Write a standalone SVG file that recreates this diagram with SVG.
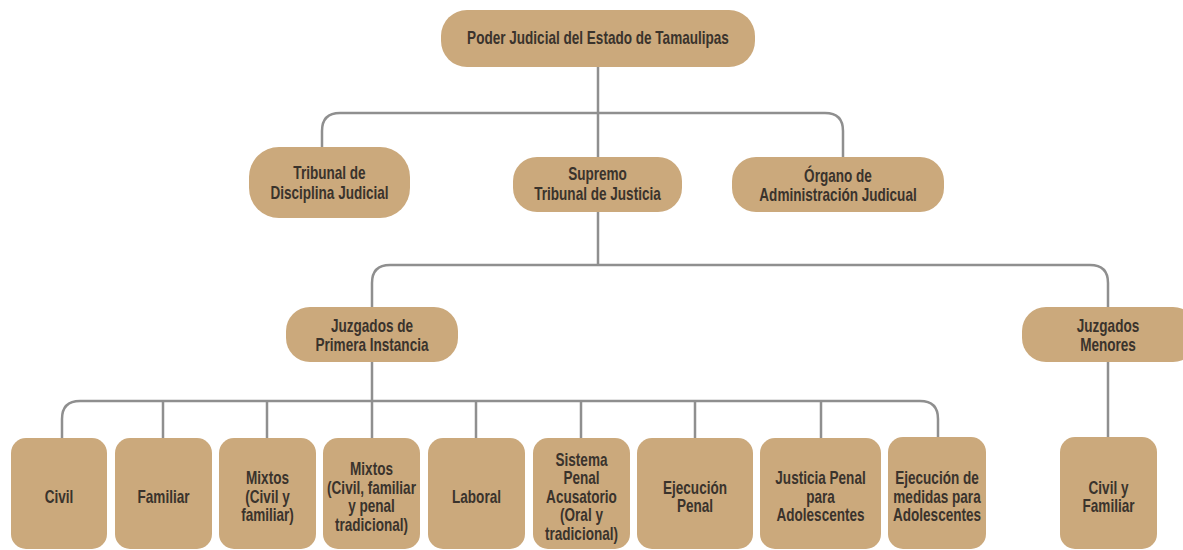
<svg xmlns="http://www.w3.org/2000/svg" width="1183" height="550" viewBox="0 0 1183 550">
<style>
.n{fill:#cba97c}
.t{font-family:"Liberation Sans",Arial,sans-serif;font-weight:bold;font-size:17.5px;fill:#3a332c;text-anchor:middle}
.c{fill:none;stroke:#8f8f8f;stroke-width:2.5}
</style>
<rect width="1183" height="550" fill="#ffffff"/>
<g id="connectors" class="c">
<path d="M598,67 V157"/>
<path d="M322,147 V131 Q322,113 340,113 H825 Q843,113 843,131 V157"/>
<path d="M598,212 V265"/>
<path d="M372,307 V283 Q372,265 390,265 H1090 Q1108,265 1108,283 V307"/>
<path d="M372,362 V438"/>
<path d="M62,438 V419 Q62,401 80,401 H920 Q938,401 938,419 V438"/>
<path d="M163,401 V438 M267,401 V438 M476,401 V438 M581,401 V438 M695,401 V438 M821,401 V438"/>
<path d="M1108,362 V438"/>
</g>
<g id="poder"><rect class="n" x="441" y="10" width="314" height="57" rx="26"/><text class="t" transform="translate(598 0) scale(0.775 1)" x="0" y="44.5">Poder Judicial del Estado de Tamaulipas</text></g>
<g id="tribunal"><rect class="n" x="249" y="147" width="161" height="71" rx="30"/><text class="t" transform="translate(329.5 0) scale(0.775 1)" x="0" y="179.5">Tribunal de<tspan x="0" dy="20">Disciplina Judicial</tspan></text></g>
<g id="supremo"><rect class="n" x="513" y="157" width="169" height="55" rx="24"/><text class="t" transform="translate(597.5 0) scale(0.775 1)" x="0" y="180.5">Supremo<tspan x="0" dy="19.5">Tribunal de Justicia</tspan></text></g>
<g id="organo"><rect class="n" x="732" y="157" width="212" height="55" rx="24"/><text class="t" transform="translate(838 0) scale(0.775 1)" x="0" y="182.5">Órgano de<tspan x="0" dy="19">Administración Judicual</tspan></text></g>
<g id="primera"><rect class="n" x="286" y="307" width="172" height="55" rx="24"/><text class="t" transform="translate(372 0) scale(0.775 1)" x="0" y="332.5">Juzgados de<tspan x="0" dy="19">Primera Instancia</tspan></text></g>
<g id="menores"><rect class="n" x="1022" y="307" width="175" height="55" rx="24"/><text class="t" transform="translate(1108 0) scale(0.775 1)" x="0" y="332.5">Juzgados<tspan x="0" dy="19">Menores</tspan></text></g>
<g id="civil"><rect class="n" x="11" y="438" width="96" height="111" rx="15"/><text class="t" transform="translate(59 0) scale(0.775 1)" x="0" y="503">Civil</text></g>
<g id="familiar"><rect class="n" x="115" y="438" width="97" height="111" rx="15"/><text class="t" transform="translate(163.5 0) scale(0.775 1)" x="0" y="503">Familiar</text></g>
<g id="mixtos1"><rect class="n" x="219" y="438" width="97" height="111" rx="15"/><text class="t" transform="translate(267.5 0) scale(0.775 1)" x="0" y="484.5">Mixtos<tspan x="0" dy="18.5">(Civil y</tspan><tspan x="0" dy="18.5">familiar)</tspan></text></g>
<g id="mixtos2"><rect class="n" x="323" y="438" width="97" height="111" rx="15"/><text class="t" transform="translate(371.5 0) scale(0.775 1)" x="0" y="475.25">Mixtos<tspan x="0" dy="18.5">(Civil, familiar</tspan><tspan x="0" dy="18.5">y penal</tspan><tspan x="0" dy="18.5">tradicional)</tspan></text></g>
<g id="laboral"><rect class="n" x="428" y="438" width="97" height="111" rx="15"/><text class="t" transform="translate(476.5 0) scale(0.775 1)" x="0" y="503">Laboral</text></g>
<g id="sistema"><rect class="n" x="533" y="438" width="97" height="111" rx="15"/><text class="t" transform="translate(581.5 0) scale(0.775 1)" x="0" y="466">Sistema<tspan x="0" dy="18.5">Penal</tspan><tspan x="0" dy="18.5">Acusatorio</tspan><tspan x="0" dy="18.5">(Oral y</tspan><tspan x="0" dy="18.5">tradicional)</tspan></text></g>
<g id="ejecucion"><rect class="n" x="637" y="438" width="116" height="111" rx="15"/><text class="t" transform="translate(695 0) scale(0.775 1)" x="0" y="493.75">Ejecución<tspan x="0" dy="18.5">Penal</tspan></text></g>
<g id="justicia"><rect class="n" x="760" y="438" width="121" height="111" rx="15"/><text class="t" transform="translate(820.5 0) scale(0.775 1)" x="0" y="484.5">Justicia Penal<tspan x="0" dy="18.5">para</tspan><tspan x="0" dy="18.5">Adolescentes</tspan></text></g>
<g id="medidas"><rect class="n" x="888" y="437" width="98" height="112" rx="15"/><text class="t" transform="translate(937 0) scale(0.775 1)" x="0" y="484.5">Ejecución de<tspan x="0" dy="18.5">medidas para</tspan><tspan x="0" dy="18.5">Adolescentes</tspan></text></g>
<g id="civilfam"><rect class="n" x="1060" y="437" width="97" height="112" rx="15"/><text class="t" transform="translate(1108.5 0) scale(0.775 1)" x="0" y="493.75">Civil y<tspan x="0" dy="18.5">Familiar</tspan></text></g>
</svg>
